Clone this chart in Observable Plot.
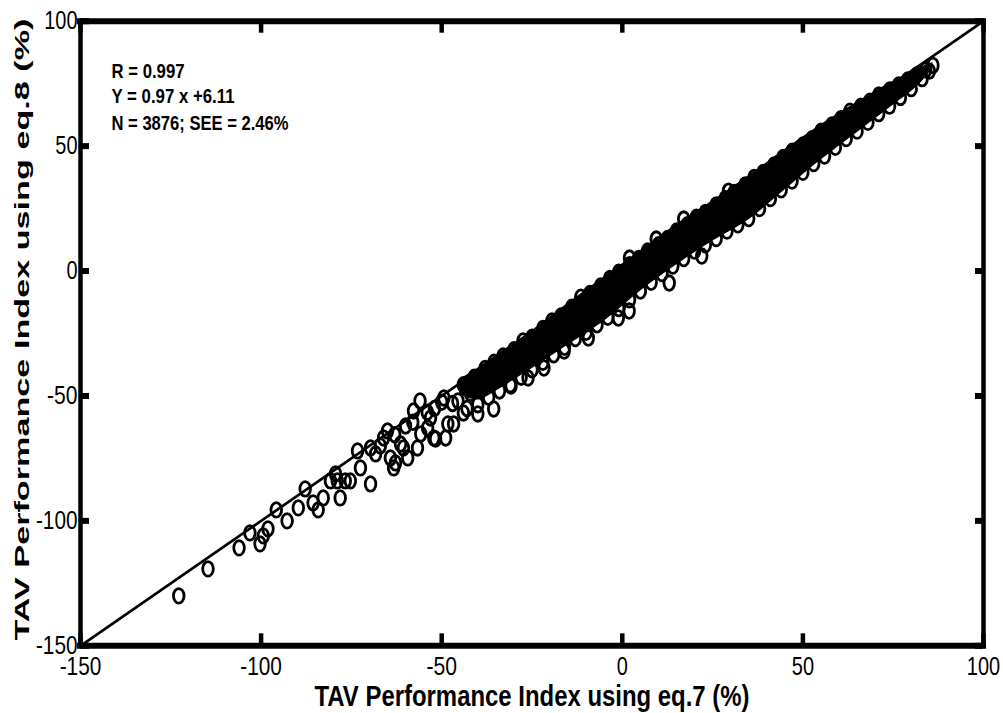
<!DOCTYPE html>
<html><head><meta charset="utf-8">
<script src="https://cdn.jsdelivr.net/npm/d3@7"></script>
<script src="https://cdn.jsdelivr.net/npm/@observablehq/plot@0.6"></script>
<style>body{margin:0;background:#fff} svg{display:block}</style>
</head><body><div id="chart"></div>
<script>
// ---- data ----
const xTicks = [-150, -100, -50, 0, 50, 100];
const yTicks = [-150, -100, -50, 0, 50, 100];
const xLabel = "TAV Performance Index using eq.7 (%)";
const yLabel = "TAV Performance Index using eq.8 (%)";
const statLines = ["R = 0.997", "Y = 0.97 x +6.11", "N = 3876; SEE = 2.46%"];
const identityLine = [[-150, -150], [100, 100]];

// saturated (solid black) part of the cloud: x, upper and lower envelope
const bandX  = [-45, -40, -35, -30, -25, -15, -5, 5, 15, 25, 35, 45, 55, 65, 75, 82, 86];
const bandHi = [-43.4, -38.9, -33.9, -28.9, -23.9, -12.9, -2.4, 8.1, 18.6, 28.1, 38.1, 48.6, 58.6, 67.6, 76, 81, 83.5];
const bandLo = [-49.6, -51.6, -48.1, -43.6, -39.1, -29.6, -20.1, -8.1, 2.4, 11.9, 20.4, 32.4, 44.4, 55.4, 66.4, 74.4, 81];

// individually visible circles (low end)
const sparsePoints = [
  [-122.8,-130],[-114.7,-119.2],[-106.1,-110.8],[-103.1,-104.8],[-100.3,-109.2],[-99.4,-106],
  [-98.1,-103.2],[-95.8,-95.6],[-92.8,-100],[-89.7,-94.8],[-87.8,-87.2],[-85.6,-92.8],
  [-84.2,-95.6],[-82.8,-90.8],[-80.8,-84],[-78.9,-84],[-78.1,-90.8],[-79.4,-81.2],
  [-76.7,-84],[-75.3,-84],[-73.3,-72],[-72.5,-78.8],[-69.7,-85.2],[-68.3,-73.2],
  [-69.7,-70.8],[-66.1,-66.8],[-65,-64],[-64.2,-74.8],[-63.3,-78.8],[-62.8,-76.8],
  [-61.4,-69.2],[-60.6,-70.8],[-59.4,-74.8],[-57.8,-56],[-56.7,-70.8],[-55.8,-65.2],
  [-53.9,-62.8],[-53.1,-58.8],[-52.2,-66.8],[-51.7,-67.2],[-49.4,-50.8],[-48.9,-66.8],
  [-48.3,-61.2],[-46.7,-61.2],[-60,-62],[-63,-65.5],[-67,-70],[-58,-60.5],[-54,-56.5],
  [-50,-52.5],[-56,-52],[-52,-55],[-47,-53],[-45.5,-52],[-42,-49],[-38.5,-46]
];
// circles along the upper edge of the band
const upperEdgePoints = [
  [-44,-45.5],[-41,-42.5],[-38,-39],[-35.5,-36.5],[-33,-34],[-30,-31.5],[-27.5,-28],[-25,-26.5],
  [-22,-23],[-19.5,-20],[-17,-18],[-14,-14.5],[-11.5,-10.5],[-9,-9],[-6,-6],[-3.5,-3],[-1,-0.5],
  [2,2.5],[4.5,5],[7,8],[10,10.5],[12.5,13],[15,16],[18,18.5],[20.5,21.5],[23,23.5],[26,26.5],
  [28.5,29],[31,31.5],[34,34.5],[36.5,37.5],[39,39.5],[42,42.5],[44.5,45.5],[47,48],[50,50.5],
  [52.5,53],[55,56],[58,58.5],[60.5,61],[63,64],[66,66],[68.5,68],[71,70.5],[74,72.5],
  [76.5,74.5],[79,76.5],[81.5,78.5],[84,80.5],[86,82.3]
];
// circles along the lower edge of the band
const lowerEdgePoints = [
  [-43,-55],[-40,-53.5],[-37,-50.5],[-34,-48],[-31,-45.5],[-28,-42.5],[-25,-39.5],[-22,-36.5],
  [-19,-33.5],[-16,-30.5],[-13,-27],[-10,-24.5],[-7,-21.5],[-4,-18.5],[-1,-15],[2,-11.5],
  [5,-8],[8,-4.5],[11,-1],[14,2],[17,5],[20,8],[23,10.5],[26,13],[29,16],[32,18.5],[35,21],
  [38,25],[41,29],[44,32.5],[47,36],[50,39.5],[53,43],[56,46],[59,49.5],[62,53],[65,56],
  [68,59.5],[71,63],[74,66],[77,69.5],[80,73],[83,77],[85,80]
];
// circles that stick out of the band
const outlierPoints = [
  [-44,-56.8],[-40,-57.2],[-35.6,-55.2],[-30.8,-46],[-26.1,-42.8],[-21.7,-38.8],[-16.1,-32],
  [-9.4,-26.8],[-1.1,-18.8],[1.9,-16],[13,-4.8],[22,6],[2,5.2],[9.4,12.8],[17,20.8],[29.4,32]
];

// ---- layout ----
const W = 1003, H = 713;
const mL = 80, mR = 20, mT = 20.7, mB = 67.7;
const fw = W - mL - mR, fh = H - mT - mB;
const FONT = "'Liberation Sans', Arial, sans-serif";

const ellipse = {
  draw(ctx) {
    const rx = 5.3, ry = 7.3, k = 0.5523;
    ctx.moveTo(rx, 0);
    ctx.bezierCurveTo(rx, k * ry, k * rx, ry, 0, ry);
    ctx.bezierCurveTo(-k * rx, ry, -rx, k * ry, -rx, 0);
    ctx.bezierCurveTo(-rx, -k * ry, -k * rx, -ry, 0, -ry);
    ctx.bezierCurveTo(k * rx, -ry, rx, -k * ry, rx, 0);
    ctx.closePath();
  }
};

const band = bandX.map((x, i) => ({x, lo: bandLo[i], hi: bandHi[i]}));
const allPoints = [...sparsePoints, ...upperEdgePoints, ...lowerEdgePoints, ...outlierPoints];
const statDy = [49.6, 75.1, 101.6];
const statLen = [73, 123, 177];

const svg = Plot.plot({
  width: W, height: H,
  marginLeft: mL, marginRight: mR, marginTop: mT, marginBottom: mB,
  style: {fontFamily: FONT, background: "#fff", overflow: "visible"},
  x: {domain: [-150, 100], axis: null},
  y: {domain: [-150, 100], axis: null},
  marks: [
    Plot.areaY(band, {x: "x", y1: "lo", y2: "hi", fill: "black", curve: "monotone-x"}),
    Plot.dot(allPoints, {x: d => d[0], y: d => d[1], symbol: ellipse, r: 6, fill: "none", stroke: "black", strokeWidth: 2.8}),
    Plot.line(identityLine, {x: d => d[0], y: d => d[1], stroke: "black", strokeWidth: 2.7}),
    Plot.ruleY([yTicks[0], yTicks[yTicks.length - 1]], {stroke: "black", strokeWidth: 6, strokeLinecap: "square"}),
    Plot.ruleX([xTicks[0], xTicks[xTicks.length - 1]], {stroke: "black", strokeWidth: 4.5, strokeLinecap: "square"}),
    Plot.tickX(xTicks, {x: d => d, insetTop: fh - 12, stroke: "black", strokeWidth: 4.5}),
    Plot.tickX(xTicks, {x: d => d, insetBottom: fh - 12, stroke: "black", strokeWidth: 4.5}),
    Plot.tickY(yTicks, {y: d => d, insetRight: fw - 9, stroke: "black", strokeWidth: 6}),
    Plot.tickY(yTicks, {y: d => d, insetLeft: fw - 8, stroke: "black", strokeWidth: 6}),
    // text marks (order matters for the length fitting below)
    Plot.text(xTicks, {x: d => d, text: d => String(d), frameAnchor: "bottom", dy: 21, lineAnchor: "middle", fontSize: 25, fill: "black"}),
    Plot.text(yTicks, {y: d => d, text: d => String(d), frameAnchor: "left", dx: -3, textAnchor: "end", lineAnchor: "middle", fontSize: 25, fill: "black"}),
    ...statLines.map((s, i) => Plot.text([s], {text: d => d, frameAnchor: "top-left", dx: 31, dy: statDy[i], textAnchor: "start", lineAnchor: "middle", fontSize: 21, fontWeight: "bold", fill: "black"})),
    Plot.text([xLabel], {text: d => d, frameAnchor: "bottom", dy: 50.8, textAnchor: "middle", lineAnchor: "middle", fontSize: 30, fontWeight: "bold", fill: "black"}),
    Plot.text([yLabel], {text: d => d, frameAnchor: "left", dx: -58.2, dy: -4, rotate: -90, textAnchor: "middle", lineAnchor: "middle", fontSize: 21, fontWeight: "bold", fill: "black"})
  ]
});

const textGroups = svg.querySelectorAll('g[aria-label="text"]');
function fit(g, fn) {
  if (!g) return;
  g.querySelectorAll("text").forEach(t => {
    t.setAttribute("textLength", fn(t.textContent));
    t.setAttribute("lengthAdjust", "spacingAndGlyphs");
  });
}
const tickLen = t => [...t].reduce((s, c) => s + (c === "-" ? 8.3 : 11.1), 0);
fit(textGroups[0], tickLen);
fit(textGroups[1], tickLen);
statLines.forEach((s, i) => fit(textGroups[2 + i], () => statLen[i]));
fit(textGroups[5], () => 435);
fit(textGroups[6], () => 622);

document.getElementById("chart").appendChild(svg);
</script>
</body></html>
